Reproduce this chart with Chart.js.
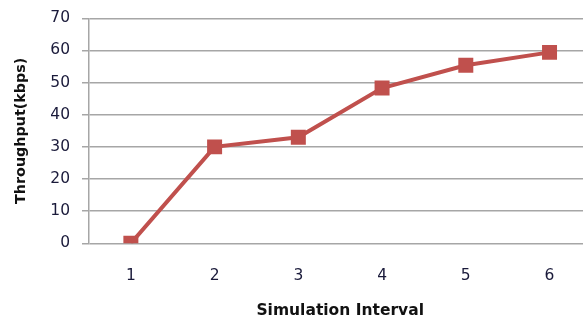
<!DOCTYPE html>
<html>
<head>
<meta charset="utf-8">
<script src="https://cdn.jsdelivr.net/npm/chart.js@4/dist/chart.umd.min.js"></script>
<style>
  html, body { margin: 0; padding: 0; background: #fff; overflow: hidden; }
  #wrap { width: 602px; height: 320px; }
</style>
</head>
<body>
<div id="wrap"><canvas id="myChart" width="602" height="320"></canvas></div>
<script>
// chart data
const intervals = ['1', '2', '3', '4', '5', '6'];
const throughput = [0, 30, 33, 48.3, 55.4, 59.4];
const yTicks = [0, 10, 20, 30, 40, 50, 60, 70];

const lineColor = '#C0504D';
const gridColor = '#a6a6a6';
const textColor = '#1a1a3a';

const data = {
    labels: intervals,
    datasets: [{
        label: 'Throughput',
        data: throughput,
        borderColor: lineColor,
        backgroundColor: lineColor,
        borderWidth: 4,
        pointStyle: 'rect',
        pointRadius: 10.6,
        pointBorderWidth: 0,
        pointBackgroundColor: lineColor,
        tension: 0
    }]
};

const config = {
    type: 'line',
    data: data,
    options: {
        responsive: false,
        animation: false,
        layout: { padding: { top: 18.3, left: 0, right: 0, bottom: 0 } },
        plugins: {
            legend: { display: false },
            tooltip: { enabled: false }
        },
        scales: {
            x: {
                offset: true,
                grid: { display: false, drawTicks: false },
                border: { display: false },
                ticks: {
                    padding: 23,
                    color: textColor,
                    font: { family: 'DejaVu Sans', size: 15.5 }
                },
                title: {
                    display: true,
                    text: 'Simulation Interval',
                    color: '#111',
                    font: { family: 'DejaVu Sans', size: 15.5, weight: 'bold' },
                    padding: { top: 0, bottom: 0 }
                },
                afterFit: function(scale) { scale.height = 76.7; }
            },
            y: {
                min: 0,
                max: 70,
                afterBuildTicks: function(scale) {
                    scale.ticks = yTicks.map(v => ({ value: v }));
                },
                grid: {
                    color: gridColor,
                    lineWidth: 1.5,
                    tickLength: 7,
                    tickColor: gridColor
                },
                border: { display: true, color: gridColor, width: 1.5 },
                ticks: {
                    padding: 12,
                    color: textColor,
                    font: { family: 'DejaVu Sans', size: 15.5 }
                },
                title: {
                    display: true,
                    text: 'Throughput(kbps)',
                    color: '#111',
                    font: { family: 'DejaVu Sans', size: 14.3, weight: 'bold' },
                    padding: { top: 13, bottom: 0 }
                },
                afterFit: function(scale) {
                    // keep the plot area where the reference has it
                    scale.width = 89;
                    scale.paddingTop = 0;
                    scale.paddingBottom = 0;
                }
            }
        }
    }
};

var myChartJS = new Chart(document.getElementById('myChart'), config);
</script>
</body>
</html>
